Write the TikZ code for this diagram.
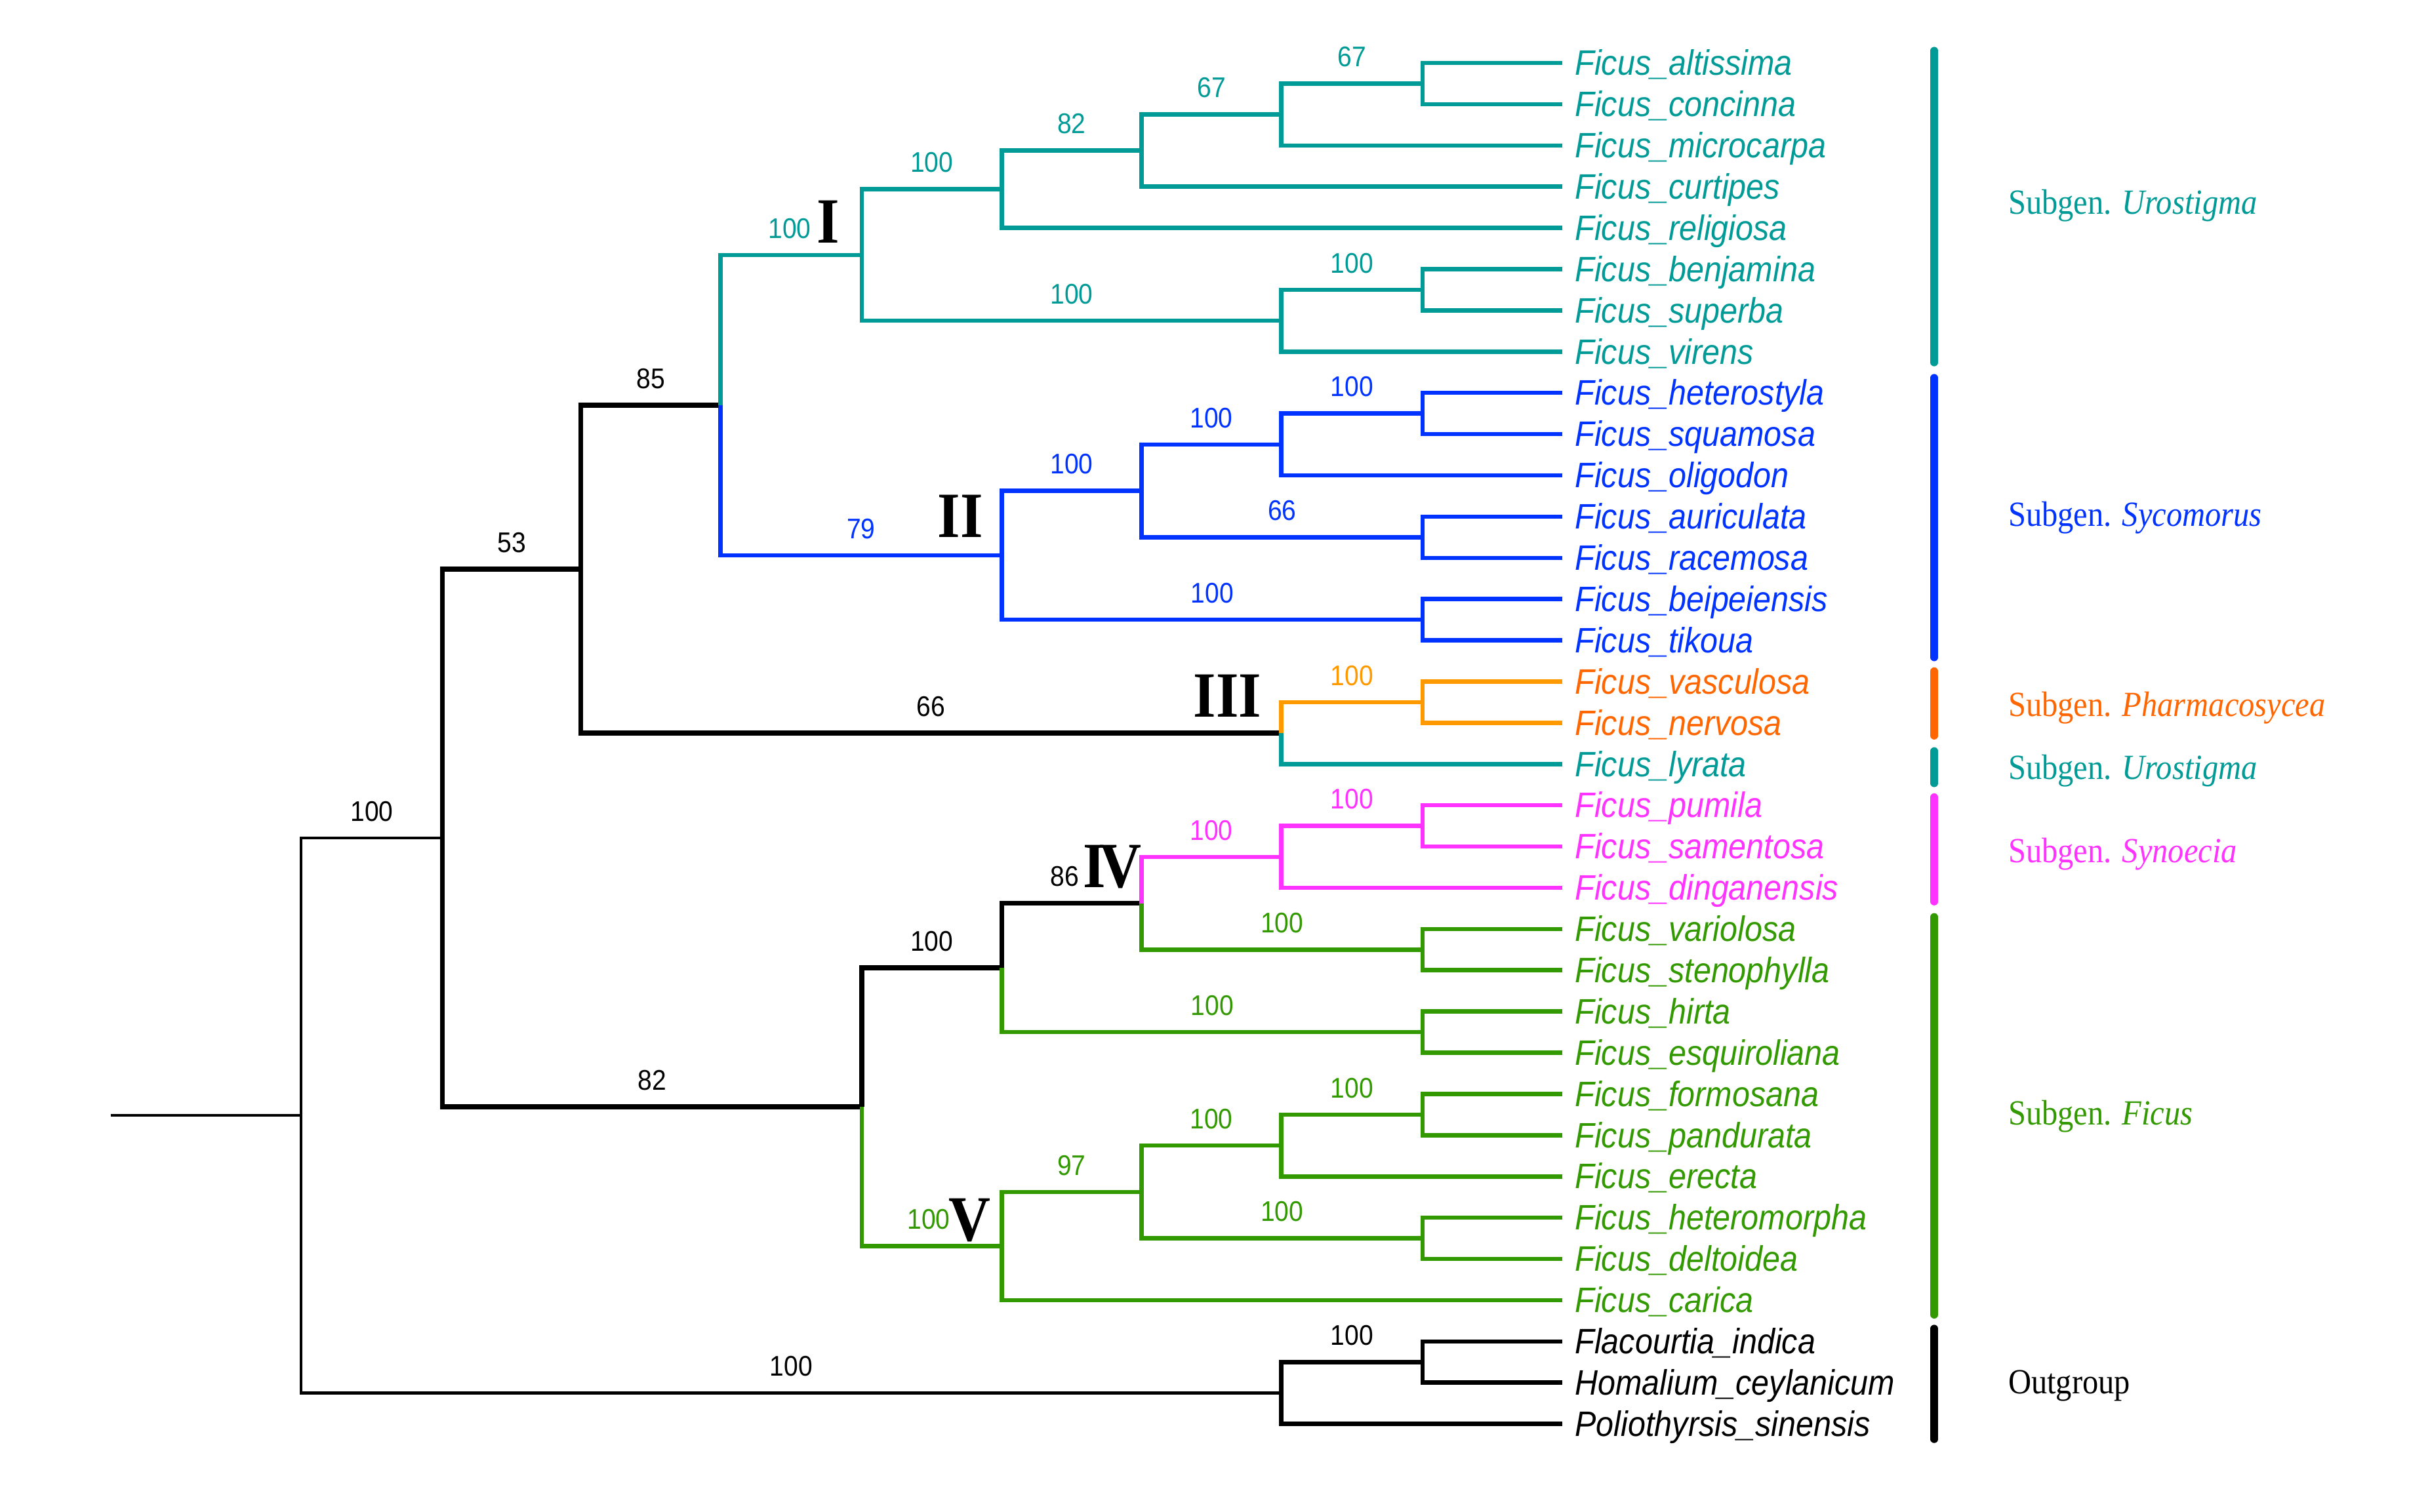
\documentclass[tikz,border=0pt]{standalone}
\usepackage{fontspec}
\newfontfamily\tipfont[FakeStretch=0.9]{Liberation Sans}
\newfontfamily\romfont[FakeStretch=0.9]{Liberation Serif}
\definecolor{cteal}{HTML}{009A97}
\definecolor{cblue}{HTML}{0033FF}
\definecolor{corng}{HTML}{FF9900}
\definecolor{cred}{HTML}{FF6600}
\definecolor{cmag}{HTML}{FF33FF}
\definecolor{cgrn}{HTML}{339900}
\tikzset{
  br/.style={line width=2.8pt},
  thk/.style={line width=3.2pt, black},
  thn/.style={line width=1.8pt, black},
  sup/.style={pos=0.75, anchor=base, inner sep=0pt, yshift=11pt, font=\tipfont\fontsize{18.5}{18.5}\selectfont},
  tip/.style={anchor=base west, inner sep=0pt, font=\tipfont\itshape\fontsize{23}{23}\selectfont},
  rom/.style={anchor=base, inner sep=0pt, font=\romfont\bfseries\fontsize{42}{42}\selectfont},
  sub/.style={anchor=base west, inner sep=0pt, font=\romfont\fontsize{23}{23}\selectfont},
  bar/.style={line width=5pt, line cap=round},
}
\begin{document}
\begin{tikzpicture}[x=1pt,y=-1pt]
\useasboundingbox (0,0) rectangle (1568,984.4);
% tips
\foreach \i/\y in {1/41,2/67.85,3/94.7,4/121.55,5/148.4,6/175.25,7/202.1,8/228.95,9/255.8,10/282.65,11/309.5,12/336.35,13/363.2,14/390.05,15/416.9,16/443.75,17/470.6,18/497.45,19/524.3,20/551.15,21/578,22/604.85,23/631.7,24/658.55,25/685.4,26/712.25,27/739.1,28/765.95,29/792.8,30/819.65,31/846.5,32/873.35,33/900.2,34/927.05}
  {\coordinate (t\i) at (1017,\y);}
% internal nodes
\coordinate (root) at (72,726.25);
\coordinate (n0) at (196,726.25);
\coordinate (n1) at (288,545.59);
\coordinate (og) at (834,906.91);
\coordinate (g1) at (926,886.78);
\coordinate (n2) at (378,370.54);
\coordinate (n8) at (561,720.64);
\coordinate (n3) at (469,263.77);
\coordinate (n4) at (834,477.31);
\coordinate (cI) at (561,166.02);
\coordinate (cII) at (652,361.52);
\coordinate (a1) at (652,123.23);
\coordinate (a2) at (834,208.81);
\coordinate (a3) at (743,98.06);
\coordinate (a4) at (834,74.56);
\coordinate (a5) at (926,54.43);
\coordinate (a6) at (926,188.68);
\coordinate (b1) at (743,319.57);
\coordinate (b2) at (926,403.48);
\coordinate (b3) at (834,289.36);
\coordinate (b4) at (926,349.78);
\coordinate (b5) at (926,269.23);
\coordinate (c1) at (926,457.18);
\coordinate (d1) at (652,630.02);
\coordinate (cV) at (652,811.26);
\coordinate (cIV) at (743,588.07);
\coordinate (d2) at (926,671.98);
\coordinate (e1) at (834,557.86);
\coordinate (e2) at (926,618.28);
\coordinate (e3) at (926,537.73);
\coordinate (f1) at (743,776.02);
\coordinate (f2) at (834,745.81);
\coordinate (f3) at (926,806.23);
\coordinate (f4) at (926,725.68);

% backbone
\draw[thn] (root) -- (n0);
\draw[thn] (n0) |- (n1) node[sup]{100};
\draw[thn] (n0) |- (og) node[sup]{100};
\draw[thk] (n1) |- (n2) node[sup]{53};
\draw[thk] (n1) |- (n8) node[sup]{82};
\draw[thk] (n2) |- (n3) node[sup]{85};
\draw[thk] (n2) |- (n4) node[sup]{66};
% clade I (teal)
\begin{scope}[br, cteal]
\draw (n3) |- (cI) node[sup, xshift=-1pt]{100};
\draw (cI) |- (a1) node[sup]{100};
\draw (cI) |- (a2) node[sup]{100};
\draw (a1) |- (a3) node[sup]{82};
\draw (a1) |- (t5);
\draw (a3) |- (a4) node[sup]{67};
\draw (a3) |- (t4);
\draw (a4) |- (a5) node[sup]{67};
\draw (a4) |- (t3);
\draw (a5) |- (t1);
\draw (a5) |- (t2);
\draw (a2) |- (a6) node[sup]{100};
\draw (a2) |- (t8);
\draw (a6) |- (t6);
\draw (a6) |- (t7);
\draw (n4) |- (t18);
\end{scope}
% clade II (blue)
\begin{scope}[br, cblue]
\draw (n3) |- (cII) node[sup]{79};
\draw (cII) |- (b1) node[sup]{100};
\draw (cII) |- (b2) node[sup]{100};
\draw (b1) |- (b3) node[sup]{100};
\draw (b1) |- (b4) node[sup]{66};
\draw (b3) |- (b5) node[sup]{100};
\draw (b3) |- (t11);
\draw (b5) |- (t9);
\draw (b5) |- (t10);
\draw (b4) |- (t12);
\draw (b4) |- (t13);
\draw (b2) |- (t14);
\draw (b2) |- (t15);
\end{scope}
% clade III (orange)
\begin{scope}[br, corng]
\draw (n4) |- (c1) node[sup]{100};
\draw (c1) |- (t16);
\draw (c1) |- (t17);
\end{scope}
% clade IV / V
\draw[thk] (n8) |- (d1) node[sup]{100};
\draw[thk] (d1) |- (cIV);
\begin{scope}[br, cmag]
\draw (cIV) |- (e1) node[sup]{100};
\draw (e1) |- (e3) node[sup]{100};
\draw (e1) |- (t21);
\draw (e3) |- (t19);
\draw (e3) |- (t20);
\end{scope}
\begin{scope}[br, cgrn]
\draw (cIV) |- (e2) node[sup]{100};
\draw (e2) |- (t22);
\draw (e2) |- (t23);
\draw (d1) |- (d2) node[sup]{100};
\draw (d2) |- (t24);
\draw (d2) |- (t25);
\draw (n8) |- (cV) node[sup, xshift=-2pt]{100};
\draw (cV) |- (f1) node[sup]{97};
\draw (cV) |- (t31);
\draw (f1) |- (f2) node[sup]{100};
\draw (f1) |- (f3) node[sup]{100};
\draw (f2) |- (f4) node[sup]{100};
\draw (f2) |- (t28);
\draw (f4) |- (t26);
\draw (f4) |- (t27);
\draw (f3) |- (t29);
\draw (f3) |- (t30);
\end{scope}
% outgroup
\begin{scope}[br, black]
\draw (og) |- (g1) node[sup]{100};
\draw (og) |- (t34);
\draw (g1) |- (t32);
\draw (g1) |- (t33);
\end{scope}

% 86 label and roman numerals
\node[anchor=base, inner sep=0pt, font=\tipfont\fontsize{18.5}{18.5}\selectfont] (s86) at (693,577) {86};
\node[rom] (rI) at (539,158) {I};
\node[rom] (rII) at (625,350) {II};
\node[rom] (rIII) at (799,467) {III};
\node[rom] (rIV) at (724,578) {I\kern-4pt V};
\node[rom] (rV) at (631,808) {V};

% tip labels
\begin{scope}[tip]
\foreach \i/\y/\c/\n in {
 1/49/cteal/altissima, 2/75.85/cteal/concinna, 3/102.7/cteal/microcarpa, 4/129.55/cteal/curtipes,
 5/156.4/cteal/religiosa, 6/183.25/cteal/benjamina, 7/210.1/cteal/superba, 8/236.95/cteal/virens,
 9/263.8/cblue/heterostyla, 10/290.65/cblue/squamosa, 11/317.5/cblue/oligodon, 12/344.35/cblue/auriculata,
 13/371.2/cblue/racemosa, 14/398.05/cblue/beipeiensis, 15/424.9/cblue/tikoua,
 16/451.75/cred/vasculosa, 17/478.6/cred/nervosa, 18/505.45/cteal/lyrata,
 19/532.3/cmag/pumila, 20/559.15/cmag/samentosa, 21/586/cmag/dinganensis,
 22/612.85/cgrn/variolosa, 23/639.7/cgrn/stenophylla, 24/666.55/cgrn/hirta, 25/693.4/cgrn/esquiroliana,
 26/720.25/cgrn/formosana, 27/747.1/cgrn/pandurata, 28/773.95/cgrn/erecta, 29/800.8/cgrn/heteromorpha,
 30/827.65/cgrn/deltoidea, 31/854.5/cgrn/carica}
 {\node[tip, text=\c] (l\i) at (1025,\y) {Ficus\_\n};}
\node[tip] (l32) at (1025,881.35) {Flacourtia\_indica};
\node[tip] (l33) at (1025,908.2) {Homalium\_ceylanicum};
\node[tip] (l34) at (1025,935.05) {Poliothyrsis\_sinensis};
\end{scope}

% subgenus bars
\coordinate (u1a) at (1259,33); \coordinate (u1b) at (1259,236);
\coordinate (sya) at (1259,246); \coordinate (syb) at (1259,428);
\coordinate (pha) at (1259,437); \coordinate (phb) at (1259,479);
\coordinate (u2a) at (1259,489); \coordinate (u2b) at (1259,510);
\coordinate (sna) at (1259,519); \coordinate (snb) at (1259,587);
\coordinate (fia) at (1259,597); \coordinate (fib) at (1259,856);
\coordinate (oga) at (1259,865); \coordinate (ogb) at (1259,937);
\draw[bar, cteal] (u1a) -- (u1b);
\draw[bar, cblue] (sya) -- (syb);
\draw[bar, cred] (pha) -- (phb);
\draw[bar, cteal] (u2a) -- (u2b);
\draw[bar, cmag] (sna) -- (snb);
\draw[bar, cgrn] (fia) -- (fib);
\draw[bar, black] (oga) -- (ogb);

% subgenus labels
\node[sub, text=cteal] (g1l) at (1307,139.5) {Subgen. \textit{Urostigma}};
\node[sub, text=cblue] (g2l) at (1307,342.5) {Subgen. \textit{Sycomorus}};
\node[sub, text=cred] (g3l) at (1307,466.5) {Subgen. \textit{Pharmacosycea}};
\node[sub, text=cteal] (g4l) at (1307,507.5) {Subgen. \textit{Urostigma}};
\node[sub, text=cmag] (g5l) at (1307,561.5) {Subgen. \textit{Synoecia}};
\node[sub, text=cgrn] (g6l) at (1307,732.5) {Subgen. \textit{Ficus}};
\node[sub] (g7l) at (1307,907.5) {Outgroup};
\end{tikzpicture}
\end{document}
